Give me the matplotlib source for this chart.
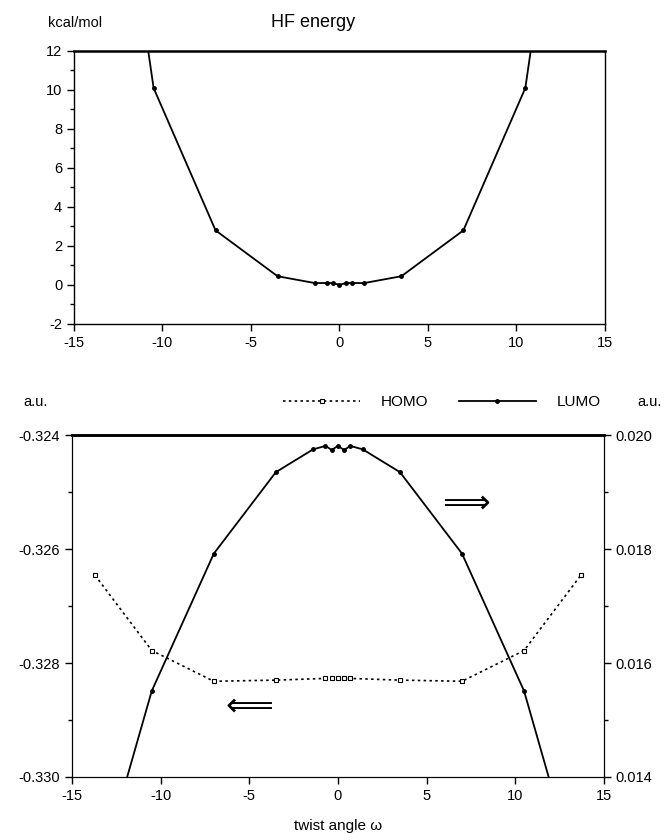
import numpy as np
import matplotlib
matplotlib.use('Agg')
import matplotlib.pyplot as plt
from matplotlib.ticker import MultipleLocator, FormatStrFormatter

plt.rcParams['font.family'] = ['Liberation Sans', 'DejaVu Sans']
plt.rcParams['axes.unicode_minus'] = False
plt.rcParams['font.size'] = 10.5

# ====== 데이터 ======
# HF energy (kcal/mol)
hf_angle = [-14.0, -10.5, -7.0, -3.5, -1.4, -0.7, -0.35, 0.0, 0.35, 0.7, 1.4, 3.5, 7.0, 10.5, 14.0]
hf_energy = [32.0, 10.1, 2.8, 0.45, 0.1, 0.1, 0.1, 0.0, 0.1, 0.1, 0.1, 0.45, 2.8, 10.1, 32.0]

# HOMO (left axis, a.u.)
homo_angle = [-13.7, -10.5, -7.0, -3.5, -0.7, -0.35, 0.0, 0.35, 0.7, 3.5, 7.0, 10.5, 13.7]
homo_val = [-0.32646, -0.32778, -0.32832, -0.32830, -0.32827, -0.32827, -0.32827,
            -0.32827, -0.32827, -0.32830, -0.32832, -0.32778, -0.32646]

# LUMO (right axis, a.u.)
lumo_angle = [-14.0, -10.5, -7.0, -3.5, -1.4, -0.7, -0.35, 0.0, 0.35, 0.7, 1.4, 3.5, 7.0, 10.5, 14.0]
lumo_val = [0.0117, 0.01551, 0.01792, 0.01935, 0.01975, 0.01981, 0.01974, 0.01981,
            0.01974, 0.01981, 0.01975, 0.01935, 0.01792, 0.01551, 0.0117]

fig = plt.figure(figsize=(6.64, 8.4), dpi=100)

# ====== 위쪽: HF energy ======
ax1 = fig.add_axes([0.1114, 0.6143, 0.7997, 0.325])
ax1.plot(hf_angle, hf_energy, color='black', lw=1.3, marker='o', ms=2.5)
ax1.set_xlim(-15, 15)
ax1.set_ylim(-2, 12)
ax1.xaxis.set_major_locator(MultipleLocator(5))
ax1.yaxis.set_major_locator(MultipleLocator(2))
ax1.yaxis.set_minor_locator(MultipleLocator(1))
ax1.tick_params(direction='out', length=5, width=1, right=False, top=False)
ax1.tick_params(which='minor', direction='out', length=3, width=1)
ax1.spines['top'].set_linewidth(1.8)
for s in ['left', 'right', 'bottom']:
    ax1.spines[s].set_linewidth(1.0)
fig.text(0.113, 0.973, 'kcal/mol', ha='center', va='center')
fig.text(0.471, 0.973, 'HF energy', ha='center', va='center', fontsize=13)

# ====== 아래쪽: HOMO / LUMO ======
ax2 = fig.add_axes([0.1084, 0.075, 0.801, 0.407])
ax3 = ax2.twinx()
h1, = ax2.plot(homo_angle, homo_val, color='black', lw=1.2, ls=(0, (1.5, 2.0)),
               marker='s', ms=3.2, mfc='white', mec='black', mew=0.8, label='HOMO')
h2, = ax3.plot(lumo_angle, lumo_val, color='black', lw=1.3, marker='o', ms=2.5,
               label='LUMO')
ax2.set_xlim(-15, 15)
ax2.set_ylim(-0.330, -0.324)
ax3.set_ylim(0.014, 0.020)
ax2.xaxis.set_major_locator(MultipleLocator(5))
ax2.yaxis.set_major_locator(MultipleLocator(0.002))
ax2.yaxis.set_minor_locator(MultipleLocator(0.001))
ax3.yaxis.set_major_locator(MultipleLocator(0.002))
ax3.yaxis.set_minor_locator(MultipleLocator(0.001))
ax2.yaxis.set_major_formatter(FormatStrFormatter('%.3f'))
ax3.yaxis.set_major_formatter(FormatStrFormatter('%.3f'))
for a in (ax2, ax3):
    a.tick_params(direction='out', length=5, width=1)
    a.tick_params(which='minor', direction='out', length=3, width=1)
ax2.spines['top'].set_linewidth(1.8)
ax3.spines['top'].set_linewidth(1.8)
ax2.set_xlabel('twist angle ω', fontsize=11, labelpad=12,
               family=['Liberation Sans', 'Liberation Serif'])

ax2.text(7.2, -0.3252, '⟹', fontsize=24, ha='center', va='center',
         family='DejaVu Sans')
ax2.text(-5.0, -0.32875, '⟸', fontsize=24, ha='center', va='center',
         family='DejaVu Sans')

fig.text(0.053, 0.521, 'a.u.', ha='center', va='center')
fig.text(0.979, 0.521, 'a.u.', ha='center', va='center')
fig.legend(handles=[h1, h2], loc='center', bbox_to_anchor=(0.666, 0.521), ncol=2,
           frameon=False, numpoints=1, handlelength=5, handletextpad=1.4,
           columnspacing=2.0, fontsize=11)

plt.savefig('out.png', dpi=100)
